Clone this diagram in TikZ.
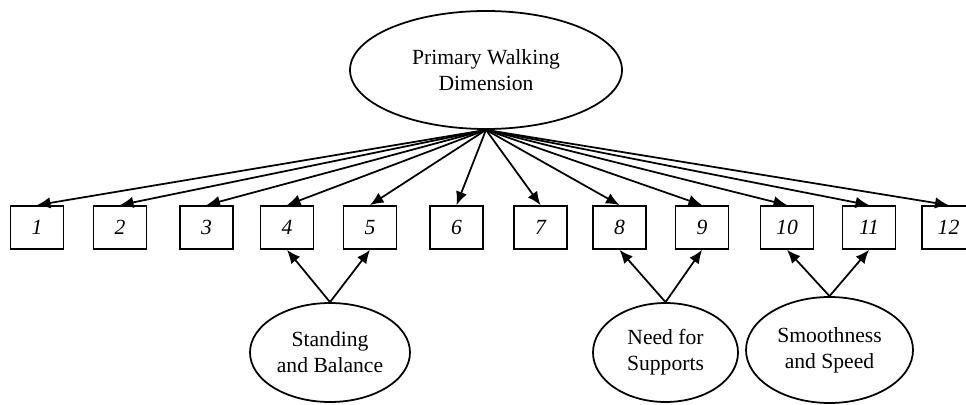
\documentclass[tikz,border=0pt]{standalone}
\usepackage{fontspec}
\setmainfont{Liberation Serif}
\usetikzlibrary{arrows.meta,shapes.geometric}
\newcommand{\lbl}{\fontsize{12.3}{14.8}\selectfont}

\begin{document}
\begin{tikzpicture}[line width=1pt,
   latent/.style={draw,ellipse,inner sep=0pt,align=center,font=\lbl},
   item/.style={draw,rectangle,minimum width=1.06cm,minimum height=0.86cm,
                inner sep=0pt,font=\lbl\itshape},
   >={Latex[length=2.7mm,width=2.3mm]}]
   \useasboundingbox (0,0) rectangle (19.32,8.08);
   \node[latent,minimum width=5.44cm,minimum height=2.36cm] (walk)
     at (9.72,6.68) {Primary Walking\\Dimension};
   \foreach \n/\x in {1/0.74,2/2.40,3/4.13,4/5.74,5/7.40,6/9.13,
                      7/10.81,8/12.39,9/14.04,10/15.74,11/17.38,12/18.97}
     \node[item] (i\n) at (\x,3.53) {\n};
   \foreach \n in {1,...,12}
     \draw[->] (walk.south) -- (i\n.north);
   \node[latent,minimum width=3.2cm,minimum height=1.98cm] (stand)
     at (6.60,1.03) {Standing\\and Balance};
   \node[latent,minimum width=2.9cm,minimum height=1.98cm] (need)
     at (13.31,1.03) {Need for\\Supports};
   \node[latent,minimum width=3.34cm,minimum height=2.12cm] (smooth)
     at (16.59,1.08) {Smoothness\\and Speed};
   \draw[->] (stand.north) -- (i4.south);
   \draw[->] (stand.north) -- (i5.south);
   \draw[->] (need.north) -- (i8.south);
   \draw[->] (need.north) -- (i9.south);
   \draw[->] (smooth.north) -- (i10.south);
   \draw[->] (smooth.north) -- (i11.south);
\end{tikzpicture}
\end{document}
